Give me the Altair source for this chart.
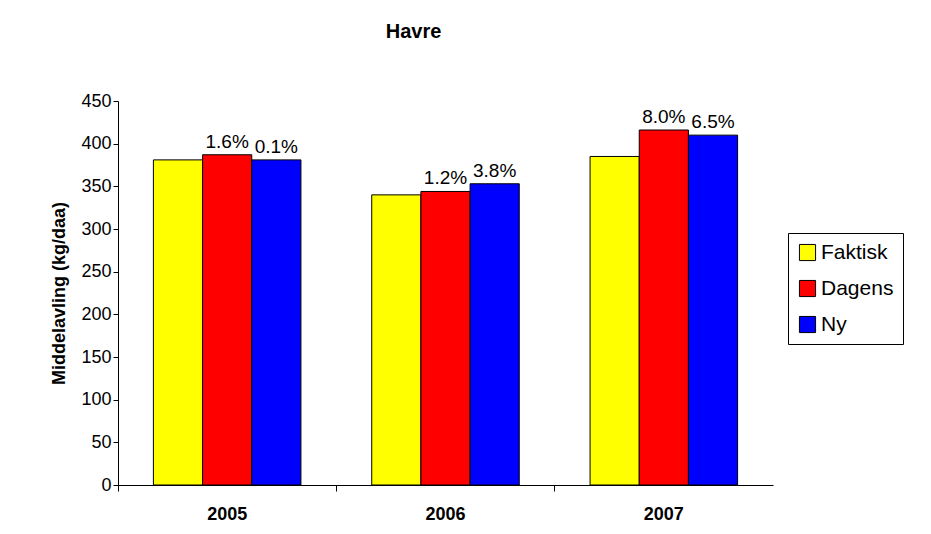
import altair as alt
import pandas as pd

years = ["2005", "2006", "2007"]
series = ["Faktisk", "Dagens", "Ny"]
faktisk = [381, 340, 385]
dagens = [387, 344, 416]
ny = [381, 353, 410]
labels_dagens = ["1.6%", "1.2%", "8.0%"]
labels_ny = ["0.1%", "3.8%", "6.5%"]
colors = ["#ffff00", "#ff0000", "#0000ff"]

rows = []
for i, y in enumerate(years):
    rows.append({"year": y, "serie": "Faktisk", "v": faktisk[i], "lab": ""})
    rows.append({"year": y, "serie": "Dagens", "v": dagens[i], "lab": labels_dagens[i]})
    rows.append({"year": y, "serie": "Ny", "v": ny[i], "lab": labels_ny[i]})
df = pd.DataFrame(rows)

x = alt.X("year:N", title=None, scale=alt.Scale(paddingInner=0, paddingOuter=0),
          axis=alt.Axis(labelAngle=0, labelFontWeight="bold", labelFontSize=18, labelColor="black",
                        labelFont="Liberation Sans", labelPadding=14, tickSize=6, bandPosition=0,
                        domainColor="black", tickColor="black"))
xo = alt.XOffset("serie:N", sort=series, scale=alt.Scale(paddingInner=0, paddingOuter=0.72))

bars = alt.Chart(df).mark_bar(stroke="black", strokeWidth=1).encode(
    x=x, xOffset=xo,
    y=alt.Y("v:Q", title="Middelavling (kg/daa)", scale=alt.Scale(domain=[0, 450]),
            axis=alt.Axis(values=list(range(0, 451, 50)), grid=False, labelFontSize=18,
                          labelColor="black", labelFont="Liberation Sans", titleFontSize=18,
                          titleFont="Liberation Sans", titleFontWeight="bold", titleColor="black",
                          domainColor="black", tickColor="black", titlePadding=12)),
    color=alt.Color("serie:N", sort=series, scale=alt.Scale(domain=series, range=colors),
                    legend=alt.Legend(title=None, orient="none", legendX=670, legendY=132,
                                      symbolType="square", symbolSize=260, symbolStrokeColor="black",
                                      symbolStrokeWidth=1, labelFontSize=21, labelFont="Liberation Sans",
                                      labelColor="black", strokeColor="black", padding=9,
                                      rowPadding=14, labelOffset=3, fillColor="white")),
)
text = alt.Chart(df).mark_text(dy=-13, fontSize=19, font="Liberation Sans", color="black").encode(
    x=x, xOffset=xo, y="v:Q", text="lab:N")

chart = (bars + text).properties(
    width=655, height=384,
    title=alt.Title("Havre", fontSize=20, font="Liberation Sans", fontWeight="bold", color="black",
                    offset=50, dx=-32),
    autosize=alt.AutoSizeParams(type="none"),
    padding={"left": 110, "top": 93, "right": 150, "bottom": 40},
).configure_view(stroke=None)

chart.save("out.html", embed_options={"renderer": "svg", "actions": False})
